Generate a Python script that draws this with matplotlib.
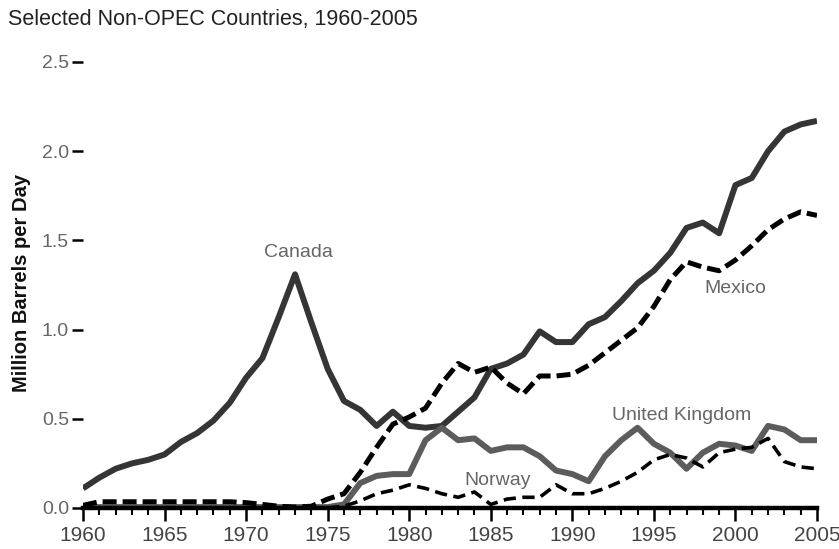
import matplotlib
matplotlib.use("Agg")
import matplotlib.pyplot as plt
from matplotlib.ticker import MultipleLocator

years = list(range(1960, 2006))

canada = [0.11, 0.17, 0.22, 0.25, 0.27, 0.30, 0.37, 0.42, 0.49, 0.59,
          0.73, 0.84, 1.07, 1.31, 1.04, 0.78, 0.60, 0.55, 0.46, 0.54,
          0.46, 0.45, 0.46, 0.54, 0.62, 0.78, 0.81, 0.86, 0.99, 0.93,
          0.93, 1.03, 1.07, 1.16, 1.26, 1.33, 1.43, 1.57, 1.60, 1.54,
          1.81, 1.85, 2.00, 2.11, 2.15, 2.17]

mexico = [0.015, 0.035, 0.035, 0.035, 0.035, 0.035, 0.035, 0.035, 0.035, 0.035,
          0.03, 0.02, 0.01, 0.005, 0.01, 0.05, 0.08, 0.20, 0.34, 0.47,
          0.51, 0.56, 0.70, 0.81, 0.76, 0.79, 0.70, 0.64, 0.74, 0.74,
          0.75, 0.80, 0.87, 0.94, 1.01, 1.13, 1.28, 1.38, 1.35, 1.33,
          1.39, 1.47, 1.56, 1.62, 1.66, 1.64]

uk = [0.005] * 16 + [0.02, 0.14, 0.18, 0.19,
      0.19, 0.38, 0.45, 0.38, 0.39, 0.32, 0.34, 0.34, 0.29, 0.21,
      0.19, 0.15, 0.29, 0.38, 0.45, 0.36, 0.31, 0.22, 0.31, 0.36,
      0.35, 0.32, 0.46, 0.44, 0.38, 0.38]

norway = [0.0] * 16 + [0.01, 0.04, 0.08, 0.10,
          0.13, 0.11, 0.08, 0.06, 0.09, 0.02, 0.05, 0.06, 0.06, 0.13,
          0.08, 0.08, 0.11, 0.15, 0.20, 0.27, 0.30, 0.28, 0.23, 0.31,
          0.33, 0.34, 0.39, 0.26, 0.23, 0.22]

title = "Selected Non-OPEC Countries, 1960-2005"
ylabel = "Million Barrels per Day"
yticks = [0.0, 0.5, 1.0, 1.5, 2.0, 2.5]
xticks = [1960, 1965, 1970, 1975, 1980, 1985, 1990, 1995, 2000, 2005]

plt.rcParams['font.family'] = ['Liberation Sans', 'DejaVu Sans']

fig = plt.figure(figsize=(8.39, 5.49), dpi=100)
ax = fig.add_axes([83/839, 1 - 508/549, (817-83)/839, (508-62)/549])

ax.plot(years, canada, color="#353535", lw=4.3, solid_capstyle='butt', zorder=3)
ax.plot(years, uk, color="#5c5c5c", lw=4.3, solid_capstyle='butt', zorder=3)
ax.plot(years, mexico, color="black", lw=3.6, dashes=(2.8, 1.2), zorder=4)
ax.plot(years, norway, color="black", lw=2.6, dashes=(3.4, 1.8), zorder=4)

ax.set_xlim(1960, 2005)
ax.set_ylim(0, 2.5)

for s in ['top', 'right', 'left']:
    ax.spines[s].set_visible(False)
ax.spines['bottom'].set_linewidth(3.2)
ax.spines['bottom'].set_color('black')
ax.spines['bottom'].set_zorder(5)

ax.set_xticks(xticks)
ax.set_xticklabels([str(x) for x in xticks])
ax.xaxis.set_minor_locator(MultipleLocator(1))
ax.tick_params(axis='x', which='major', length=9, width=1.8, color='black',
               labelsize=15, labelcolor='#444444', pad=4)
ax.tick_params(axis='x', which='minor', length=5, width=1.5, color='black')
ax.set_yticks(yticks)
ax.set_yticklabels([f"{v:.1f}" for v in yticks])
ax.tick_params(axis='y', which='major', length=8, width=1.8, color='black',
               labelsize=14, labelcolor='#666666', pad=2)

fig.text(8/839, 1 - 20/549, title, fontsize=15.5, color='#222222', va='center', ha='left')
fig.text(22/839, 1 - 283/549, ylabel, fontsize=14.5, fontweight='bold', rotation=90,
         va='center', ha='center', color='#111111')

lab = dict(color='#666666', fontsize=14, ha='center', va='center')
ax.text(1973.2, 1.43, "Canada", **lab)
ax.text(2000.0, 1.23, "Mexico", **lab)
ax.text(1996.7, 0.52, "United Kingdom", **lab)
ax.text(1985.4, 0.155, "Norway", **lab)

fig.savefig("out.png", dpi=100)
